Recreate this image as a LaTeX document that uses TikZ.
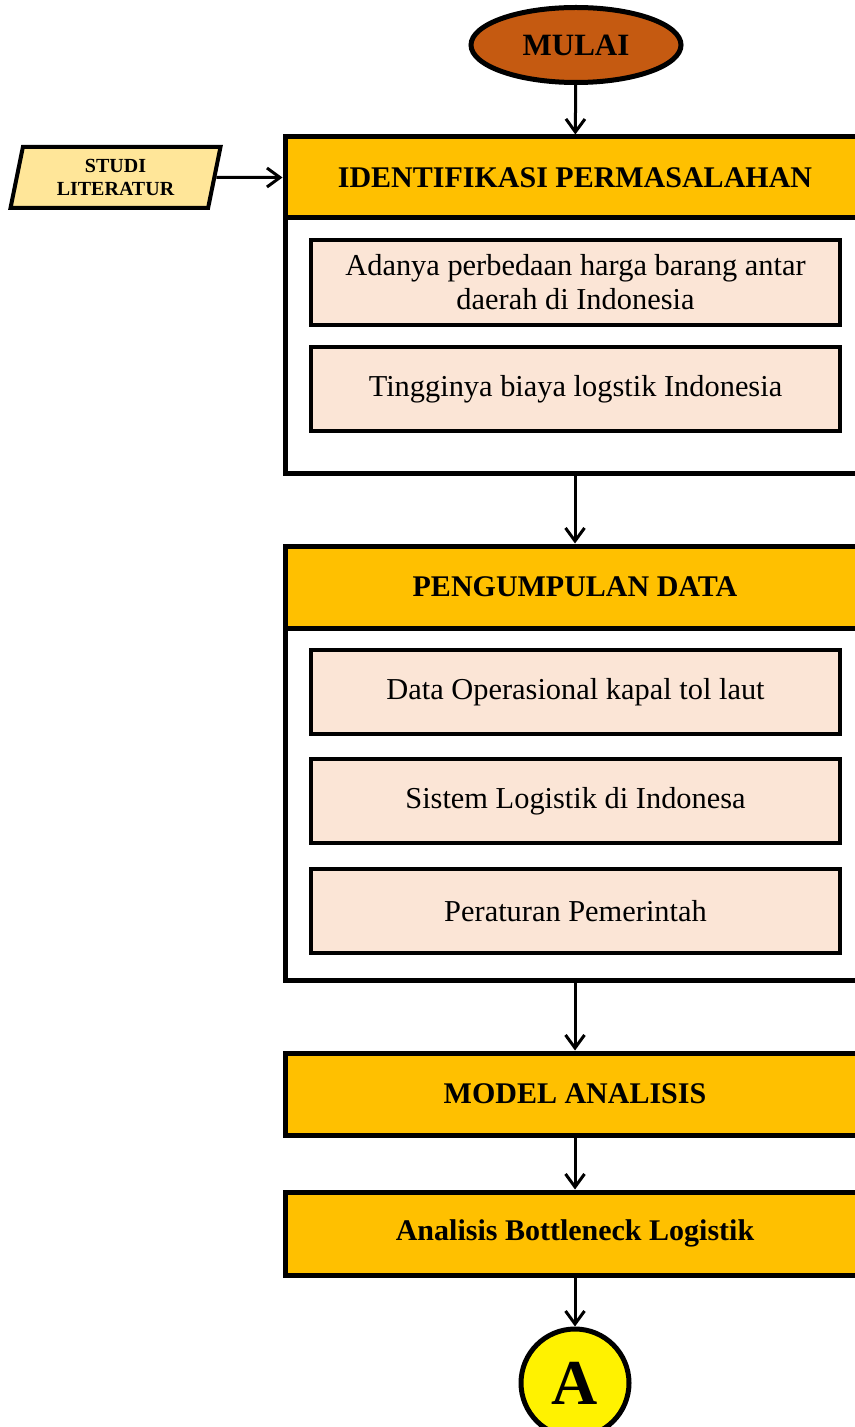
\documentclass[tikz,border=0pt]{standalone}
\usepackage{fontspec}
\setmainfont{Liberation Serif}
\usetikzlibrary{shapes.geometric,arrows.meta}
\definecolor{mulaicol}{HTML}{C55A11}
\definecolor{headcol}{HTML}{FFC000}
\definecolor{studicol}{HTML}{FFE699}
\definecolor{isicol}{HTML}{FBE5D6}
\begin{document}
\begin{tikzpicture}[x=0.5pt, y=-0.5pt,
  frame/.style={draw, line width=2.5pt, fill=white, minimum width=290pt},
  head/.style={draw, line width=2.5pt, fill=headcol, minimum width=290pt, font=\fontsize{15}{17}\selectfont\bfseries},
  isi/.style={draw, line width=1.75pt, fill=isicol, minimum width=264.5pt, minimum height=42pt, align=center, font=\fontsize{15.2}{17}\selectfont},
  panah/.style={-{Straight Barb[length=6.5pt,width=9.5pt]}, line width=1.5pt}]
\useasboundingbox (0,0) rectangle (855,1427);
\node[ellipse, draw, line width=2.5pt, fill=mulaicol, minimum width=105pt, minimum height=37.5pt, font=\fontsize{15.5}{18}\selectfont\bfseries] (mulai) at (576,45) {MULAI};
\node[trapezium, trapezium left angle=76, trapezium right angle=104, trapezium stretches body, draw, line width=2pt, fill=studicol, minimum width=105pt, minimum height=30.5pt, align=center, font=\fontsize{10}{11.5}\selectfont\bfseries] (studi) at (115.5,177.5) {STUDI\\LITERATUR};
\node[frame, minimum height=168pt] (idframe) at (575,305) {};
\node[head, minimum height=40.5pt] (idhead) at (575,177.5) {IDENTIFIKASI PERMASALAHAN};
\node[isi, minimum height=42.5pt] (id1) at (575.5,282.5) {Adanya perbedaan harga barang antar\\daerah di Indonesia};
\node[isi] (id2) at (575.5,389) {Tingginya biaya logstik Indonesia};
\node[frame, minimum height=217pt] (pdframe) at (575,763) {};
\node[head, minimum height=41pt] (pdhead) at (575,587) {PENGUMPULAN DATA};
\node[isi] (pd1) at (575.5,692) {Data Operasional kapal tol laut};
\node[isi] (pd2) at (575.5,801) {Sistem Logistik di Indonesa};
\node[isi] (pd3) at (575.5,911) {Peraturan Pemerintah};
\node[head, minimum height=41pt] (model) at (575,1094) {MODEL ANALISIS};
\node[head, minimum height=41.5pt] (bottleneck) at (575,1233.5) {Analisis Bottleneck Logistik};
\node[circle, draw, line width=2.5pt, fill=yellow, minimum size=54pt, inner sep=0pt, font=\fontsize{32}{36}\selectfont\bfseries] (A) at (575,1383) {A};
\draw[panah] (mulai) -- (idhead);
\draw[panah] (studi) -- (idhead);
\draw[panah] (idframe) -- (pdhead);
\draw[panah] (pdframe) -- (model);
\draw[panah] (model) -- (bottleneck);
\draw[panah] (bottleneck) -- (A);
\end{tikzpicture}
\end{document}
